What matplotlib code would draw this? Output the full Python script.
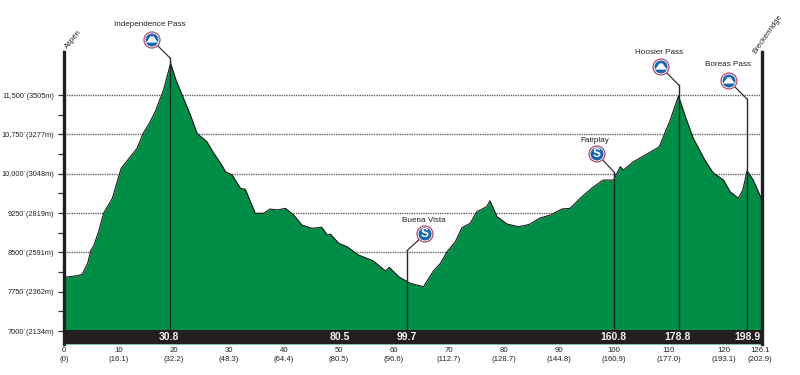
import matplotlib
matplotlib.use("Agg")
import matplotlib.pyplot as plt
from matplotlib.patches import Circle, Polygon

plt.rcParams['font.family'] = ['Liberation Sans', 'DejaVu Sans']

# Elevation profile: distance (miles) and elevation (feet)
miles = [0, 2.4, 3.3, 4.3, 4.9, 5.4, 6.3, 7.2, 7.8, 8.8, 9.5, 10.4, 11.8, 13.3, 14.4, 15.5, 16.6, 18.1, 19.4,
         20.4, 21.5, 23.0, 24.2, 26.0, 27.2, 28.5, 29.4, 30.6, 32.1, 33.0, 34.8, 36.3, 37.5, 38.8, 40.3,
         41.8, 43.3, 45.1, 46.9, 47.9, 48.5, 50.0, 51.5, 53.6, 56.3, 58.5, 59.2, 60.9, 63.0,
         65.4, 67.2, 68.5, 69.7, 71.2, 72.4, 73.9, 75.1, 76.9, 77.5, 78.8, 80.6, 82.7, 84.2,
         84.8, 86.6, 88.5, 90.6, 92.1, 93.9, 96.0, 98.1, 100.0, 101.2, 101.8, 103.6, 106.3,
         108.3, 110.3, 111.8, 113.2, 114.5, 116.6, 118.1, 120.0, 121.2, 122.7, 123.5, 124.3, 125.4,
         126.6, 127]
elev = [8025, 8055, 8082, 8292, 8545, 8622, 8895, 9246, 9353, 9532, 9786, 10104, 10290, 10486, 10772,
        10960, 11184, 11598, 12108, 11780, 11503, 11121, 10772, 10612, 10400, 10200, 10039, 9976, 9723, 9704, 9246,
        9246, 9328, 9309, 9341, 9213, 9022, 8960, 8979, 8832, 8845, 8673, 8608, 8450, 8336,
        8145, 8215, 8036, 7910, 7845, 8145, 8292, 8513, 8704, 8971, 9055, 9276, 9372, 9486,
        9181, 9042, 8990, 9022, 9042, 9156, 9213, 9328, 9341, 9532, 9723, 9881, 9881, 10135,
        10072, 10230, 10390, 10516, 11026, 11484, 11050, 10677, 10263, 10020, 9881, 9658, 9532, 9690,
        10059, 9881, 9595, 9500]

y_major = [7000, 7750, 8500, 9250, 10000, 10750, 11500]
y_minor = [7375, 8125, 8875, 9625, 10375, 11125]
y_labels = ["7000´(2134m)", "7750´(2362m)", "8500´(2591m)", "9250´(2819m)",
            "10,000´(3048m)", "10,750´(3277m)", "11,500´(3505m)"]

x_ticks = [0, 10, 20, 30, 40, 50, 60, 70, 80, 90, 100, 110, 120, 126.6]
x_labels = ["0\n(0)", "10\n(16.1)", "20\n(32.2)", "30\n(48.3)", "40\n(64.4)", "50\n(80.5)",
            "60\n(96.6)", "70\n(112.7)", "80\n(128.7)", "90\n(144.8)", "100\n(160.9)",
            "110\n(177.0)", "120\n(193.1)", "126.1\n(202.9)"]

# Landmarks
stop_names = ["Independence Pass", "Buena Vista", "Fairplay", "Hoosier Pass", "Boreas Pass"]
stop_miles = [19.35, 62.4, 100.1, 111.85, 124.3]
stop_tops = [12209, 8532, 10034, 11694, 11427]
stop_kinds = ["pass", "sprint", "sprint", "pass", "pass"]
band_miles = [19.1, 50.1, 62.4, 100.0, 111.7, 124.3]
band_labels = ["30.8", "80.5", "99.7", "160.8", "178.8", "198.9"]

W, H = 800, 375
fig = plt.figure(figsize=(8, 3.75), dpi=100, facecolor="white")
L, R, T, B = 64, 762, 52, 344
ax = fig.add_axes([L / W, 1 - B / H, (R - L) / W, (B - T) / H])
ax.set_xlim(0.09, 127)
ax.set_ylim(6752, 12324)
ax.set_facecolor("none")

GREEN = "#008d45"
DARK = "#231f20"

for v in y_major[1:]:
    ax.axhline(v, color="#666666", lw=1.0, ls=(0, (1, 0.7)), zorder=1)
ax.fill_between(miles, 6752, elev, color=GREEN, lw=0, zorder=2)
ax.plot(miles, elev, color="#1a1a1a", lw=0.8, zorder=3)
ax.axhspan(6752, 7019, color=DARK, lw=0, zorder=4)

for m, top in zip(stop_miles, stop_tops):
    ax.plot([m, m], [7019, top], color="#1f2a26", lw=1.0, zorder=3.5)

for m, lab in zip(band_miles, band_labels):
    ax.text(m, 6885, lab, color="#f2f2f2", fontweight="bold", fontsize=7.5,
            ha="center", va="center", zorder=5)

for s in ("top", "bottom"):
    ax.spines[s].set_visible(False)
for s in ("left", "right"):
    ax.spines[s].set_linewidth(2.4)
    ax.spines[s].set_color(DARK)
    ax.spines[s].set_zorder(6)

ax.set_yticks(y_major, y_labels, fontsize=5.3, color="#222222")
ax.set_yticks(y_minor, minor=True)
ax.tick_params(axis="y", which="both", length=4, width=0.9, color="#333333", pad=3)
ax.set_xticks(x_ticks, x_labels, fontsize=5.6, color="#222222", linespacing=1.4)
ax.tick_params(axis="x", length=0, pad=2.5)

# Overlay in pixel coordinates for icons
ov = fig.add_axes([0, 0, 1, 1])
ov.set_xlim(0, W)
ov.set_ylim(H, 0)
ov.axis("off")
ov.patch.set_alpha(0)

icon_xy = [(152, 40), (425, 234), (597, 154), (661, 67), (729, 81)]
label_xy = [(150, 24), (424, 220), (595, 140), (659, 52.5), (728, 65)]
line_top = [(170, 58), (407, 250.7), (614, 172), (678.7, 85), (747, 99)]

for name, kind, (ix, iy), (tx, ty), (lx, ly) in zip(stop_names, stop_kinds, icon_xy, label_xy, line_top):
    ov.plot([ix, lx], [iy, ly], color="#333333", lw=0.9, zorder=3)
    ov.add_patch(Circle((ix, iy), 8.6, fc="#a8456a", ec="none", zorder=4))
    ov.add_patch(Circle((ix, iy), 7.4, fc="white", ec="none", zorder=5))
    ov.add_patch(Circle((ix, iy), 6.5, fc="#1c66ae", ec="none", zorder=6))
    if kind == "pass":
        ov.add_patch(Polygon([(ix - 6.2, iy + 2.6), (ix - 3.6, iy - 0.6), (ix - 1.6, iy - 3.6),
                              (ix + 1.6, iy - 3.6), (ix + 3.6, iy - 0.6), (ix + 6.2, iy + 2.6)],
                             closed=True, fc="white", ec="none", zorder=7))
    else:
        ov.text(ix, iy + 0.3, "S", color="white", fontweight="bold", fontsize=8.5,
                ha="center", va="center", zorder=7)
    ov.text(tx, ty, name, fontsize=5.9, color="#222222", ha="center", va="center", zorder=8)

ov.text(73, 39, "Aspen", fontsize=5.6, color="#222222", rotation=50, ha="center", va="center")
ov.text(768, 34, "Breckenridge", fontsize=5.6, color="#222222", rotation=55, ha="center", va="center")

fig.savefig("out.png", dpi=100, facecolor="white")
